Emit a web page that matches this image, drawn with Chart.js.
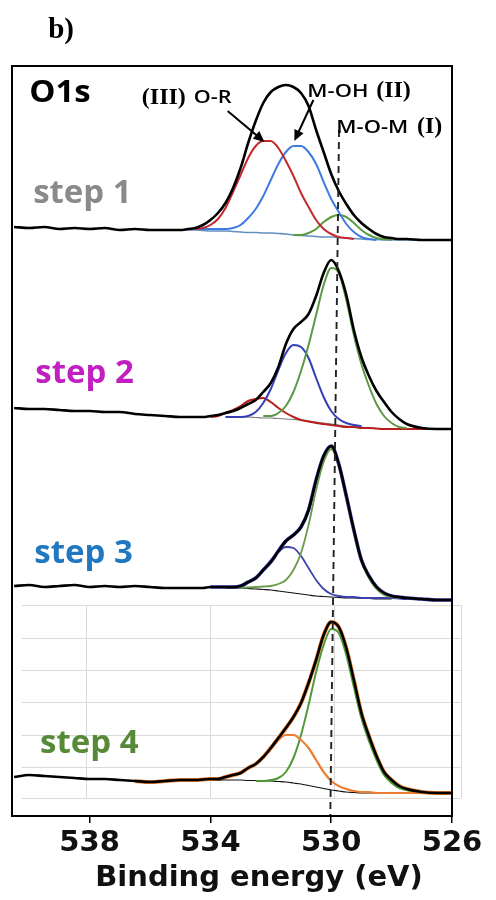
<!DOCTYPE html>
<html>
<head>
<meta charset="utf-8">
<title>O1s XPS</title>
<script src="https://cdn.jsdelivr.net/npm/chart.js@4.4.1/dist/chart.umd.min.js"></script>
<style>
  html, body { margin: 0; padding: 0; background: #fff; }
</style>
</head>
<body>
<canvas id="xps" width="496" height="900"></canvas>
<script>
// binding energy grids (eV): full scan and the fitted window
const energy = [540.5, 540, 539.5, 539, 538.5, 538, 537.5, 537, 536.5, 536, 535.5, 535,
  534.75, 534.5, 534.25, 534, 533.75, 533.5, 533.25, 533, 532.75, 532.5, 532.25, 532,
  531.75, 531.5, 531.25, 531, 530.75, 530.5, 530.25, 530, 529.75, 529.5, 529.25, 529,
  528.75, 528.5, 528.25, 528, 527.75, 527.5, 527, 526.5, 526];
const fitEnergy = [535, 534.75, 534.5, 534.25, 534, 533.75, 533.5, 533.25, 533, 532.75,
  532.5, 532.25, 532, 531.75, 531.5, 531.25, 531, 530.75, 530.5, 530.25, 530, 529.75,
  529.5, 529.25, 529, 528.75, 528.5, 528.25, 528, 527.75, 527.5, 527, 526.5, 526];

const energyTicks = [538, 534, 530, 526];
const axisTitle = 'Binding energy (eV)';
const stepNames = ['step 1', 'step 2', 'step 3', 'step 4'];
const stepOffset = [576, 387, 216, 23];
const n = null;

// step 1
const step1Envelope = [13, 12, 13, 11, 12, 11, 12, 10, 11, 10, 10, 10,
  11, 12, 15, 20, 27, 37, 52, 72, 97, 119, 137, 148, 153, 155, 153, 147, 134, 110, 88, 66,
  49, 36, 25, 17, 11, 6, 3, 2, 1, 1, 0, 0, 0];
const step1OR = [n, n, 11, 12, 15, 21, 32, 48, 65, 82, 94, 99, 99, 92, 79, 64, 47, 33, 20, 11,
  6, 3, 2, 1, n, n, n, n, n, n, n, n, n, n];
const step1MOH = [n, n, 11, 11, 11, 11, 11, 12, 15, 22, 31, 44, 60, 76, 88, 94, 94, 88, 76, 58,
  41, 28, 16, 8, 3, 1, 0, n, n, n, n, n, n, n];
const step1MOM = [n, n, n, n, n, n, n, n, n, n, n, n, n, n, n, 5, 5, 7, 11, 18,
  23, 25, 23, 17, 10, 5, 2, 1, 0, n, n, n, n, n];
const step1Background = [10, 10, 10, 9.5, 9, 9, 9, 8.5, 8, 7.5, 7.5, 7, 7, 6.5, 6, 5, 4.5, 4, 3.5, 3,
  3, 2.5, 2, 1.5, 1, 0.5, 0.5, 0, 0, 0, 0, 0, 0, 0];

// step 2
const step2Envelope = [21, 20, 20, 19, 18, 18, 17, 17, 15, 14, 13, 12,
  12, 12, 12, 13, 14, 16, 18, 21, 25, 29, 37, 46, 62, 85, 100, 107, 115, 133, 156, 169,
  158, 134, 99, 72, 53, 38, 27, 17, 10, 5, 1, 0, 0];
const step2MOM = [n, n, n, n, n, n, n, n, n, n, n, 13, 13, 16, 23, 37, 58, 84, 114, 144,
  161, 156, 129, 94, 65, 43, 25, 13, 6, 2, 1, n, n, n];
const step2MOH = [n, n, n, n, n, n, 12, 12, 12, 13, 17, 26, 40, 59, 76, 84, 82, 71, 51, 32,
  18, 10, 6, 4, 3, n, n, n, n, n, n, n, n, n];
const step2OR = [n, n, n, n, 12, 13, 16, 19, 23, 28, 30, 31, 27, 21, 16, 12, 9, 7.5, 6, 5,
  4, 3, 2, 2, 1, 1, 0.5, 0, 0, 0, 0, 0, 0, 0];
const step2Background = [n, n, n, n, n, n, 12, 12, 12, 12, 11.5, 11, 11, 10.5, 10, 9.5, 9, 8, 7, 6,
  5, 4, 3, 2.5, 2, 1, 0.5, 0, 0, n, n, n, n, n];

// step 3
const step3Envelope = [14, 15, 13, 14, 15, 13, 14, 13, 14, 13, 12, 12,
  12, 12, 12, 13, 13, 13, 13, 14, 18, 22, 30, 38, 49, 59, 65, 73, 90, 120, 144, 154,
  136, 104, 70, 40, 24, 13, 7, 4, 3, 2, 1, 0, 0];
const step3MOM = [n, n, n, n, n, n, n, n, 12, 12.5, 13, 13.5, 14, 16, 20, 30, 47, 75, 110, 138,
  151, 135, 103, 69, 39, 22, 11, 5, 3, 2, n, n, n, n];
const step3MOH = [n, n, n, n, n, n, n, 13, 13, 17, 22, 31, 40, 48, 53, 52, 44, 32, 20, 11,
  6, 4, 3, 3, 2, 2, 2, 2, 2, 1.5, 1, n, n, n];
const step3Background = [n, n, n, n, n, n, 12, 12, 12, 11.5, 11, 10.5, 10, 9, 8, 7, 6, 5, 4, 3.5,
  3, 2.5, 2, 2, 1.5, 1.5, 1, 1, 1, n, n, n, n, n];

// step 4
const step4Envelope = [16, 18, 17, 16, 15, 14, 14, 13, 12, 11, 12, 13,
  13, 13, 13.5, 14, 14, 16, 18, 20, 25, 29, 36, 45, 55, 65, 76, 90, 110, 133, 158, 171,
  166, 145, 113, 80, 57, 37, 21, 13, 7, 4, 1, 0, 0];
const step4MOH = [n, n, n, n, 13, 14, 16, 18, 21, 25, 29, 36, 44, 53, 58, 58, 53, 45, 33, 21,
  12, 7, 4, 2, 1, 1, 0, 0, 0, 0, 0, 0, 0, 0];
const step4MOM = [n, n, n, n, n, n, n, n, n, n, 12, 12, 13, 15, 21, 35, 58, 88, 121, 148,
  164, 160, 138, 106, 75, 52, 33, 18, 10, 5, 3, 1, n, n];
const step4Background = [n, n, n, n, 13, 13, 13, 13, 13, 12.5, 12.5, 12, 12, 11.5, 11, 10, 9, 7.5, 6, 4.5,
  3, 2, 1, 0.5, 0, 0, 0, n, n, n, n, n, n, n];

// M-O-M reference position, and the gridded backdrop of the last spectrum
const refLineEnergy = [529.74, 530.03];
const refLineLevel = [686, 0];
const gridEnergies = [538.13, 534.03, 529.9, 525.71];
const gridSpan = [540.25, 525.71];
const gridLevels = [211, 178, 146, 114, 81, 49, 18];

function curve(xs, ys, offset, color, width, order, extra) {
  return Object.assign({
    data: xs.map((e, i) => ({ x: e, y: ys[i] == null ? null : ys[i] + offset })),
    borderColor: color,
    borderWidth: width,
    pointRadius: 0,
    fill: false,
    cubicInterpolationMode: 'monotone',
    order: order
  }, extra || {});
}

// raw data trace shown only over part of the scan
function partial(limit, color) {
  return { segment: { borderColor: c => (c.p0.parsed.x > limit ? 'rgba(0,0,0,0)' : color) } };
}

const datasets = [
  curve(refLineEnergy, refLineLevel, 0, '#222', 1.9, 0, { borderDash: [7, 5], cubicInterpolationMode: 'default' }),

  curve(energy, step1Envelope, stepOffset[0], '#000', 2.6, 1),
  curve(fitEnergy, step1OR, stepOffset[0], '#c4282c', 2, 2),
  curve(fitEnergy, step1MOH, stepOffset[0], '#3f7be0', 2, 2),
  curve(fitEnergy, step1MOM, stepOffset[0], '#5c9a3e', 2, 2),
  curve(fitEnergy, step1Background, stepOffset[0], '#6190c0', 1.6, 3),

  curve(energy, step2Envelope, stepOffset[1], '#000', 2.6, 1),
  curve(fitEnergy, step2MOM, stepOffset[1], '#5d9944', 2, 2),
  curve(fitEnergy, step2MOH, stepOffset[1], '#3340b5', 2, 2),
  curve(fitEnergy, step2OR, stepOffset[1], '#b81e1e', 2, 2),
  curve(fitEnergy, step2Background, stepOffset[1], '#7f7f7f', 1.2, 3),

  curve(energy, step3Envelope, stepOffset[2], '#000', 2.6, 1),
  curve(energy, step3Envelope, stepOffset[2], '#3b3fb0', 3.6, 4, partial(534, '#3b3fb0')),
  curve(fitEnergy, step3MOM, stepOffset[2], '#6a9a4a', 1.8, 2),
  curve(fitEnergy, step3MOH, stepOffset[2], '#3b3fb0', 1.8, 2),
  curve(fitEnergy, step3Background, stepOffset[2], '#111', 1.2, 3),

  curve(energy, step4Envelope, stepOffset[3], '#000', 2.6, 1),
  curve(energy, step4Envelope, stepOffset[3], '#ed7d31', 4, 4, partial(536.5, '#ed7d31')),
  curve(fitEnergy, step4MOH, stepOffset[3], '#ed7d31', 2.2, 2),
  curve(fitEnergy, step4MOM, stepOffset[3], '#4f9a36', 2, 2),
  curve(fitEnergy, step4Background, stepOffset[3], '#111', 1.2, 3)
];

const serif = '"Liberation Serif", "Times New Roman", serif';
const sans = '"Open Sans", sans-serif';
const notes = [
  { text: 'b)', e: 539.37, l: 778, font: 'bold 29px ' + serif, color: '#000' },
  { text: 'O1s', e: 540.0, l: 714, font: 'bold 30px ' + sans, color: '#000', sx: 1.1 },
  { text: '(III)', e: 536.27, l: 712, font: 'bold 24px ' + serif, color: '#000' },
  { text: 'O-R', e: 534.55, l: 713, font: '600 18px ' + sans, color: '#000', sx: 1.2 },
  { text: 'M-OH', e: 530.79, l: 719, font: '600 18px ' + sans, color: '#000', sx: 1.22 },
  { text: '(II)', e: 528.51, l: 719, font: 'bold 24px ' + serif, color: '#000' },
  { text: 'M-O-M', e: 529.83, l: 683, font: '600 18px ' + sans, color: '#000', sx: 1.22 },
  { text: '(I)', e: 527.16, l: 683, font: 'bold 24px ' + serif, color: '#000' },
  { text: stepNames[0], e: 539.87, l: 613, font: 'bold 33px ' + sans, color: '#8a8a8a' },
  { text: stepNames[1], e: 539.80, l: 433, font: 'bold 33px ' + sans, color: '#c21fc2' },
  { text: stepNames[2], e: 539.83, l: 253, font: 'bold 33px ' + sans, color: '#1f78c0' },
  { text: stepNames[3], e: 539.64, l: 63, font: 'bold 33px ' + sans, color: '#578a38' }
];
const arrows = [
  { from: [533.43, 705], to: [532.21, 674] },
  { from: [530.59, 716], to: [531.22, 675] }
];

function drawArrow(ctx, x0, y0, x1, y1) {
  const a = Math.atan2(y1 - y0, x1 - x0), h = 11, w = 5;
  ctx.beginPath();
  ctx.moveTo(x0, y0);
  ctx.lineTo(x1 - Math.cos(a) * h * 0.8, y1 - Math.sin(a) * h * 0.8);
  ctx.stroke();
  ctx.beginPath();
  ctx.moveTo(x1, y1);
  ctx.lineTo(x1 - h * Math.cos(a) + w * Math.sin(a), y1 - h * Math.sin(a) - w * Math.cos(a));
  ctx.lineTo(x1 - h * Math.cos(a) - w * Math.sin(a), y1 - h * Math.sin(a) + w * Math.cos(a));
  ctx.closePath();
  ctx.fill();
}

const axisFont = { family: '"DejaVu Sans", sans-serif', weight: 'bold', size: 29 };

const decor = {
  id: 'decor',
  beforeDatasetsDraw(chart) {
    const { ctx, scales: { x, y } } = chart;
    const x0 = x.getPixelForValue(gridSpan[0]), x1 = x.getPixelForValue(gridSpan[1]);
    const y0 = y.getPixelForValue(gridLevels[0]), y1 = y.getPixelForValue(gridLevels[gridLevels.length - 1]);
    ctx.save();
    ctx.strokeStyle = '#dadada';
    ctx.lineWidth = 1;
    ctx.beginPath();
    gridLevels.forEach(l => {
      const py = Math.round(y.getPixelForValue(l)) + 0.5;
      ctx.moveTo(x0, py); ctx.lineTo(x1, py);
    });
    gridEnergies.forEach(e => {
      const px = Math.round(x.getPixelForValue(e)) + 0.5;
      ctx.moveTo(px, y0); ctx.lineTo(px, y1);
    });
    ctx.stroke();
    ctx.restore();
  },
  afterDatasetsDraw(chart) {
    const { ctx, chartArea: a, scales: { x, y } } = chart;
    ctx.save();
    ctx.strokeStyle = '#000';
    ctx.lineWidth = 2;
    ctx.strokeRect(a.left, a.top, a.right - a.left, a.bottom - a.top);

    ctx.fillStyle = '#000';
    ctx.lineWidth = 2;
    arrows.forEach(r => drawArrow(ctx,
      x.getPixelForValue(r.from[0]), y.getPixelForValue(r.from[1]),
      x.getPixelForValue(r.to[0]), y.getPixelForValue(r.to[1])));

    ctx.textAlign = 'left';
    ctx.textBaseline = 'alphabetic';
    notes.forEach(t => {
      ctx.save();
      ctx.translate(x.getPixelForValue(t.e), y.getPixelForValue(t.l));
      ctx.scale(t.sx || 1, 1);
      ctx.font = t.font;
      ctx.fillStyle = t.color;
      ctx.fillText(t.text, 0, 0);
      ctx.restore();
    });

    // axis title, set a little right of the plot centre
    ctx.font = `${axisFont.weight} ${axisFont.size}px ${axisFont.family}`;
    ctx.fillStyle = '#111';
    ctx.textAlign = 'center';
    ctx.fillText(axisTitle, (a.left + a.right) / 2 + 27, a.bottom + 70);
    ctx.restore();
  }
};

new Chart(document.getElementById('xps'), {
  type: 'line',
  data: { datasets },
  options: {
    responsive: false,
    animation: false,
    spanGaps: false,
    layout: { padding: { left: 12, right: 44, top: 66, bottom: 0 } },
    plugins: { legend: { display: false }, tooltip: { enabled: false } },
    scales: {
      x: {
        type: 'linear',
        reverse: true,
        min: 526,
        max: 540.57,
        afterBuildTicks: s => { s.ticks = energyTicks.map(v => ({ value: v })); },
        afterFit: s => { s.height = 84; },
        border: { display: false },
        grid: { drawOnChartArea: false, drawTicks: true, tickLength: 7, color: '#000', lineWidth: 1.5 },
        ticks: { autoSkip: false, maxRotation: 0, padding: 3, color: '#111', font: axisFont },
        title: { display: false }
      },
      y: { display: false, min: 0, max: 750 }
    }
  },
  plugins: [decor]
});
</script>
</body>
</html>
